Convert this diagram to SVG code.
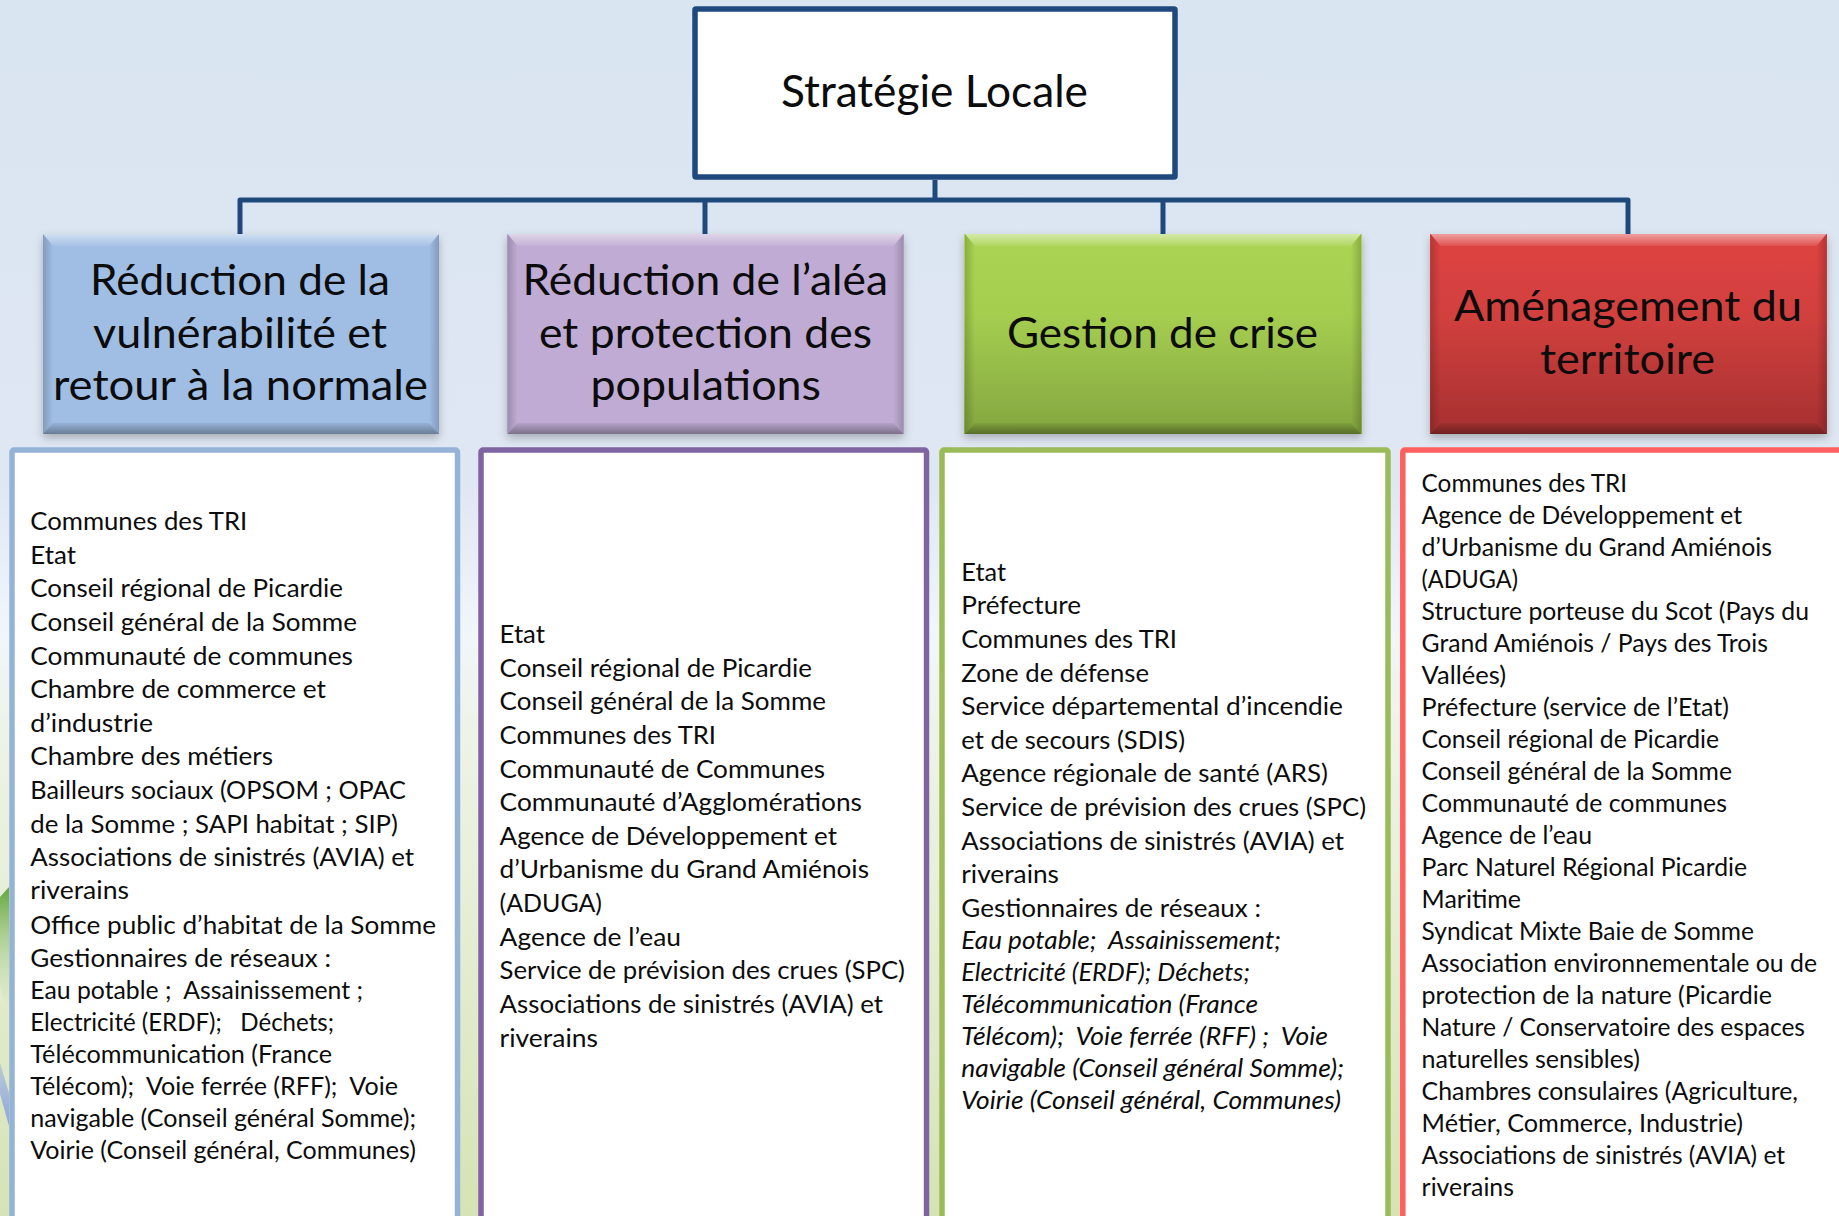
<svg xmlns="http://www.w3.org/2000/svg" width="1839" height="1216" viewBox="0 0 1839 1216">
<style>
text{font-family:"Lato","Liberation Sans",sans-serif;fill:#0c0c0c;white-space:pre}
.h{font-size:43px}
.t{font-size:45px}
.l{font-size:24.5px}
.i{font-size:24.5px;font-style:italic}
.list{fill:#fff;stroke-width:5.5}
.conn{fill:none;stroke:#1f497d;stroke-width:5;stroke-linejoin:round}
</style>
<defs>
<linearGradient id="bg" x1="0" y1="0" x2="0" y2="1">
<stop offset="0" stop-color="#d9e5f1"/><stop offset=".4" stop-color="#dfe7f3"/><stop offset=".52" stop-color="#f1f6fb"/><stop offset=".6" stop-color="#eef3e8"/><stop offset=".72" stop-color="#e8efda"/><stop offset="1" stop-color="#d5e3b5"/>
</linearGradient>
<linearGradient id="gGreen" x1="0" y1="0" x2="0" y2="1"><stop offset="0" stop-color="#aad452"/><stop offset=".4" stop-color="#a5ce50"/><stop offset="1" stop-color="#84a640"/></linearGradient>
<linearGradient id="gRed" x1="0" y1="0" x2="0" y2="1"><stop offset="0" stop-color="#de4341"/><stop offset=".4" stop-color="#d2403e"/><stop offset="1" stop-color="#a63030"/></linearGradient>
<linearGradient id="bt" x1="0" y1="0" x2="0" y2="1"><stop offset="0" stop-color="#fff" stop-opacity=".5"/><stop offset="1" stop-color="#fff" stop-opacity=".08"/></linearGradient>
<linearGradient id="bb" x1="0" y1="0" x2="0" y2="1"><stop offset="0" stop-color="#000" stop-opacity=".06"/><stop offset="1" stop-color="#000" stop-opacity=".34"/></linearGradient>
<linearGradient id="bl" x1="0" y1="0" x2="1" y2="0"><stop offset="0" stop-color="#000" stop-opacity=".18"/><stop offset="1" stop-color="#000" stop-opacity="0"/></linearGradient>
<linearGradient id="br" x1="1" y1="0" x2="0" y2="0"><stop offset="0" stop-color="#000" stop-opacity=".18"/><stop offset="1" stop-color="#000" stop-opacity="0"/></linearGradient>
<linearGradient id="sg" x1="0" y1="0" x2="0" y2="1"><stop offset="0" stop-color="#63a73c"/><stop offset="1" stop-color="#e6eed8" stop-opacity=".2"/></linearGradient>
<linearGradient id="sb" x1="0" y1="0" x2="0" y2="1"><stop offset="0" stop-color="#a9bbdf" stop-opacity=".7"/><stop offset="1" stop-color="#8fa5d8"/></linearGradient>
<filter id="sh" x="-5%" y="-5%" width="110%" height="115%"><feDropShadow dx="0" dy="4" stdDeviation="4.5" flood-color="#000" flood-opacity=".25"/></filter>
<g id="bevel396">
<polygon points="0,0 396,0 386,12 10,12" fill="url(#bt)"/>
<polygon points="0,200 396,200 386,189 10,189" fill="url(#bb)"/>
<polygon points="0,0 10,12 10,189 0,200" fill="url(#bl)"/>
<polygon points="396,0 386,12 386,189 396,200" fill="url(#br)"/>
</g>
</defs>
<rect id="background" width="1839" height="1216" fill="url(#bg)"/>
<g id="decor">
<polygon points="9,887 0,897 0,985 9,1018" fill="url(#sg)"/>
<polygon points="0,1063 9,1093 9,1126 0,1094" fill="url(#sb)"/>
</g>
<g id="connectors">
<path class="conn" d="M935 180V200M240 234V200H1628V234M705 200V234M1163 200V234"/>
</g>
<g id="node-strategie">
<rect x="695" y="9" width="480" height="168" rx="1" fill="#fff" stroke="#1f497d" stroke-width="5.5"/>
<text class="t" x="781" y="107" textLength="307" lengthAdjust="spacingAndGlyphs">Stratégie Locale</text>
</g>
<g id="node-vulnerabilite">
<rect x="43" y="234" width="396" height="200" fill="#a0bde4" filter="url(#sh)"/>
<use href="#bevel396" x="43" y="234"/>
<text class="h" x="90" y="295" textLength="300" lengthAdjust="spacingAndGlyphs">Réduction de la</text>
<text class="h" x="93" y="348" textLength="294" lengthAdjust="spacingAndGlyphs">vulnérabilité et</text>
<text class="h" x="53" y="400" textLength="375" lengthAdjust="spacingAndGlyphs">retour à la normale</text>
</g>
<g id="node-alea">
<rect x="507" y="234" width="397" height="200" fill="#bfabd3" filter="url(#sh)"/>
<use href="#bevel396" x="507.5" y="234"/>
<text class="h" x="522.5" y="295" textLength="365.5" lengthAdjust="spacingAndGlyphs">Réduction de l’aléa</text>
<text class="h" x="539" y="348" textLength="333" lengthAdjust="spacingAndGlyphs">et protection des</text>
<text class="h" x="590.5" y="400" textLength="230.5" lengthAdjust="spacingAndGlyphs">populations</text>
</g>
<g id="node-crise">
<rect x="964" y="234" width="398" height="200" fill="url(#gGreen)" filter="url(#sh)"/>
<use href="#bevel396" x="965" y="234"/>
<text class="h" x="1007" y="348" textLength="311" lengthAdjust="spacingAndGlyphs">Gestion de crise</text>
</g>
<g id="node-territoire">
<rect x="1430" y="234" width="397" height="200" fill="url(#gRed)" filter="url(#sh)"/>
<use href="#bevel396" x="1430.5" y="234"/>
<text class="h" x="1454" y="321" textLength="348" lengthAdjust="spacingAndGlyphs">Aménagement du</text>
<text class="h" x="1540" y="374" textLength="175" lengthAdjust="spacingAndGlyphs">territoire</text>
</g>
<g id="list-vulnerabilite">
<rect class="list" x="12" y="450" width="445.5" height="800" rx="2" stroke="#95b3d7"/>
<text class="l" x="30.3" y="530" textLength="217" lengthAdjust="spacingAndGlyphs">Communes des TRI</text>
<text class="l" x="30.3" y="564" textLength="45.7" lengthAdjust="spacingAndGlyphs">Etat</text>
<text class="l" x="30.3" y="597" textLength="312.7" lengthAdjust="spacingAndGlyphs">Conseil régional de Picardie</text>
<text class="l" x="30.3" y="631" textLength="326.7" lengthAdjust="spacingAndGlyphs">Conseil général de la Somme</text>
<text class="l" x="30.3" y="665" textLength="322.7" lengthAdjust="spacingAndGlyphs">Communauté de communes</text>
<text class="l" x="30.3" y="698" textLength="295.7" lengthAdjust="spacingAndGlyphs">Chambre de commerce et</text>
<text class="l" x="30.3" y="732" textLength="122.7" lengthAdjust="spacingAndGlyphs">d’industrie</text>
<text class="l" x="30.3" y="765" textLength="242.7" lengthAdjust="spacingAndGlyphs">Chambre des métiers</text>
<text class="l" x="30.3" y="799" textLength="375.7" lengthAdjust="spacingAndGlyphs">Bailleurs sociaux (OPSOM ; OPAC</text>
<text class="l" x="30.3" y="833" textLength="367.7" lengthAdjust="spacingAndGlyphs">de la Somme ; SAPI habitat ; SIP)</text>
<text class="l" x="30.3" y="866" textLength="383.7" lengthAdjust="spacingAndGlyphs">Associations de sinistrés (AVIA) et</text>
<text class="l" x="30.3" y="899" textLength="98.7" lengthAdjust="spacingAndGlyphs">riverains</text>
<text class="l" x="30.3" y="934" textLength="405.7" lengthAdjust="spacingAndGlyphs">Office public d’habitat de la Somme</text>
<text class="l" x="30.3" y="967" textLength="300.7" lengthAdjust="spacingAndGlyphs">Gestionnaires de réseaux :</text>
<text class="l" x="30.3" y="999" textLength="332.7" lengthAdjust="spacingAndGlyphs">Eau potable ;  Assainissement ;</text>
<text class="l" x="30.3" y="1031" textLength="303.7" lengthAdjust="spacingAndGlyphs">Electricité (ERDF);   Déchets;</text>
<text class="l" x="30.3" y="1063" textLength="301.7" lengthAdjust="spacingAndGlyphs">Télécommunication (France</text>
<text class="l" x="30.3" y="1095" textLength="367.7" lengthAdjust="spacingAndGlyphs">Télécom);  Voie ferrée (RFF);  Voie</text>
<text class="l" x="30.3" y="1127" textLength="385.7" lengthAdjust="spacingAndGlyphs">navigable (Conseil général Somme);</text>
<text class="l" x="30.3" y="1159" textLength="385.7" lengthAdjust="spacingAndGlyphs">Voirie (Conseil général, Communes)</text>
</g>
<g id="list-alea">
<rect class="list" x="481" y="450" width="445.5" height="800" rx="2" stroke="#8064a2"/>
<text class="l" x="499.6" y="643" textLength="45.4" lengthAdjust="spacingAndGlyphs">Etat</text>
<text class="l" x="499.6" y="677" textLength="312.4" lengthAdjust="spacingAndGlyphs">Conseil régional de Picardie</text>
<text class="l" x="499.6" y="710" textLength="326.4" lengthAdjust="spacingAndGlyphs">Conseil général de la Somme</text>
<text class="l" x="499.6" y="744" textLength="216.4" lengthAdjust="spacingAndGlyphs">Communes des TRI</text>
<text class="l" x="499.6" y="778" textLength="325.4" lengthAdjust="spacingAndGlyphs">Communauté de Communes</text>
<text class="l" x="499.6" y="811" textLength="362.4" lengthAdjust="spacingAndGlyphs">Communauté d’Agglomérations</text>
<text class="l" x="499.6" y="845" textLength="337.4" lengthAdjust="spacingAndGlyphs">Agence de Développement et</text>
<text class="l" x="499.6" y="878" textLength="369.4" lengthAdjust="spacingAndGlyphs">d’Urbanisme du Grand Amiénois</text>
<text class="l" x="499.6" y="912" textLength="102.4" lengthAdjust="spacingAndGlyphs">(ADUGA)</text>
<text class="l" x="499.6" y="946" textLength="181.4" lengthAdjust="spacingAndGlyphs">Agence de l’eau</text>
<text class="l" x="499.6" y="979" textLength="405.4" lengthAdjust="spacingAndGlyphs">Service de prévision des crues (SPC)</text>
<text class="l" x="499.6" y="1013" textLength="383.4" lengthAdjust="spacingAndGlyphs">Associations de sinistrés (AVIA) et</text>
<text class="l" x="499.6" y="1047" textLength="98.4" lengthAdjust="spacingAndGlyphs">riverains</text>
</g>
<g id="list-crise">
<rect class="list" x="942" y="450" width="446" height="800" rx="2" stroke="#9bbb59"/>
<text class="l" x="961.3" y="581" textLength="44.7" lengthAdjust="spacingAndGlyphs">Etat</text>
<text class="l" x="961.3" y="614" textLength="119.7" lengthAdjust="spacingAndGlyphs">Préfecture</text>
<text class="l" x="961.3" y="648" textLength="215.7" lengthAdjust="spacingAndGlyphs">Communes des TRI</text>
<text class="l" x="961.3" y="682" textLength="187.7" lengthAdjust="spacingAndGlyphs">Zone de défense</text>
<text class="l" x="961.3" y="715" textLength="381.7" lengthAdjust="spacingAndGlyphs">Service départemental d’incendie</text>
<text class="l" x="961.3" y="749" textLength="223.7" lengthAdjust="spacingAndGlyphs">et de secours (SDIS)</text>
<text class="l" x="961.3" y="782" textLength="366.7" lengthAdjust="spacingAndGlyphs">Agence régionale de santé (ARS)</text>
<text class="l" x="961.3" y="816" textLength="404.7" lengthAdjust="spacingAndGlyphs">Service de prévision des crues (SPC)</text>
<text class="l" x="961.3" y="850" textLength="382.7" lengthAdjust="spacingAndGlyphs">Associations de sinistrés (AVIA) et</text>
<text class="l" x="961.3" y="883" textLength="97.7" lengthAdjust="spacingAndGlyphs">riverains</text>
<text class="l" x="961.3" y="917" textLength="299.7" lengthAdjust="spacingAndGlyphs">Gestionnaires de réseaux :</text>
<text class="i" x="961.3" y="949" textLength="319.7" lengthAdjust="spacingAndGlyphs">Eau potable;  Assainissement;</text>
<text class="i" x="961.3" y="981" textLength="288.7" lengthAdjust="spacingAndGlyphs">Electricité (ERDF); Déchets;</text>
<text class="i" x="961.3" y="1013" textLength="296.7" lengthAdjust="spacingAndGlyphs">Télécommunication (France</text>
<text class="i" x="961.3" y="1045" textLength="366.7" lengthAdjust="spacingAndGlyphs">Télécom);  Voie ferrée (RFF) ;  Voie</text>
<text class="i" x="961.3" y="1077" textLength="382.7" lengthAdjust="spacingAndGlyphs">navigable (Conseil général Somme);</text>
<text class="i" x="961.3" y="1109" textLength="379.7" lengthAdjust="spacingAndGlyphs">Voirie (Conseil général, Communes)</text>
</g>
<g id="list-territoire">
<rect class="list" x="1402.8" y="450" width="460" height="800" rx="2" stroke="#ff5f5f"/>
<text class="l" x="1421.6" y="492" textLength="205.6" lengthAdjust="spacingAndGlyphs">Communes des TRI</text>
<text class="l" x="1421.6" y="524" textLength="320.4" lengthAdjust="spacingAndGlyphs">Agence de Développement et</text>
<text class="l" x="1421.6" y="556" textLength="350.4" lengthAdjust="spacingAndGlyphs">d’Urbanisme du Grand Amiénois</text>
<text class="l" x="1421.6" y="588" textLength="96.4" lengthAdjust="spacingAndGlyphs">(ADUGA)</text>
<text class="l" x="1421.6" y="620" textLength="387.4" lengthAdjust="spacingAndGlyphs">Structure porteuse du Scot (Pays du</text>
<text class="l" x="1421.6" y="652" textLength="346.4" lengthAdjust="spacingAndGlyphs">Grand Amiénois / Pays des Trois</text>
<text class="l" x="1421.6" y="684" textLength="84.4" lengthAdjust="spacingAndGlyphs">Vallées)</text>
<text class="l" x="1421.6" y="716" textLength="307.4" lengthAdjust="spacingAndGlyphs">Préfecture (service de l’Etat)</text>
<text class="l" x="1421.6" y="748" textLength="297.4" lengthAdjust="spacingAndGlyphs">Conseil régional de Picardie</text>
<text class="l" x="1421.6" y="780" textLength="310.4" lengthAdjust="spacingAndGlyphs">Conseil général de la Somme</text>
<text class="l" x="1421.6" y="812" textLength="305.4" lengthAdjust="spacingAndGlyphs">Communauté de communes</text>
<text class="l" x="1421.6" y="844" textLength="170.4" lengthAdjust="spacingAndGlyphs">Agence de l’eau</text>
<text class="l" x="1421.6" y="876" textLength="325.4" lengthAdjust="spacingAndGlyphs">Parc Naturel Régional Picardie</text>
<text class="l" x="1421.6" y="908" textLength="99.4" lengthAdjust="spacingAndGlyphs">Maritime</text>
<text class="l" x="1421.6" y="940" textLength="332.4" lengthAdjust="spacingAndGlyphs">Syndicat Mixte Baie de Somme</text>
<text class="l" x="1421.6" y="972" textLength="395.4" lengthAdjust="spacingAndGlyphs">Association environnementale ou de</text>
<text class="l" x="1421.6" y="1004" textLength="350.4" lengthAdjust="spacingAndGlyphs">protection de la nature (Picardie</text>
<text class="l" x="1421.6" y="1036" textLength="383.4" lengthAdjust="spacingAndGlyphs">Nature / Conservatoire des espaces</text>
<text class="l" x="1421.6" y="1068" textLength="218.4" lengthAdjust="spacingAndGlyphs">naturelles sensibles)</text>
<text class="l" x="1421.6" y="1100" textLength="376.4" lengthAdjust="spacingAndGlyphs">Chambres consulaires (Agriculture,</text>
<text class="l" x="1421.6" y="1132" textLength="321.4" lengthAdjust="spacingAndGlyphs">Métier, Commerce, Industrie)</text>
<text class="l" x="1421.6" y="1164" textLength="363.4" lengthAdjust="spacingAndGlyphs">Associations de sinistrés (AVIA) et</text>
<text class="l" x="1421.6" y="1196" textLength="92.4" lengthAdjust="spacingAndGlyphs">riverains</text>
</g>
</svg>
